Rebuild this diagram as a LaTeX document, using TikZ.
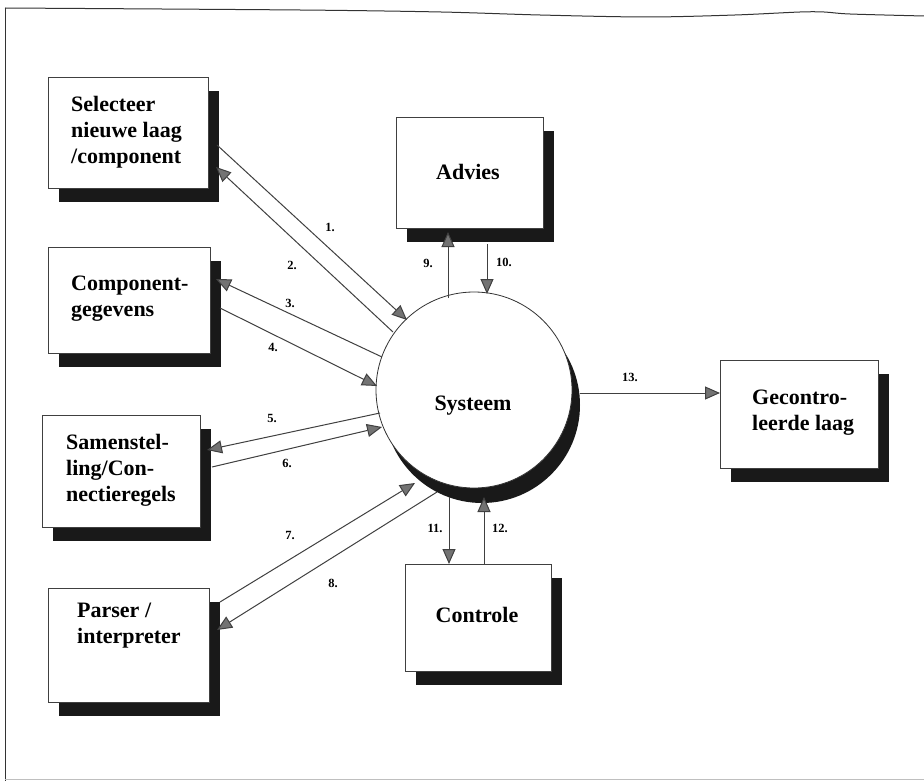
\documentclass[tikz,border=0pt]{standalone}
\usepackage{fontspec}
\setmainfont{Liberation Serif}
\usetikzlibrary{arrows.meta,shadows}
\begin{document}
\begin{tikzpicture}[x=1pt,y=-1pt,
  box/.style={draw=black!75, line width=0.8pt, fill=white, inner sep=0pt,
    drop shadow={shadow xshift=11pt, shadow yshift=-14pt, opacity=1, fill=black!90}},
  sysshape/.style={circle, draw=black!80, line width=0.8pt, fill=white, inner sep=0pt,
    drop shadow={shadow xshift=8pt, shadow yshift=-15pt, opacity=1, fill=black!90}},
  lbl/.style={font=\fontsize{22}{26}\selectfont\bfseries, align=left, inner sep=0pt},
  num/.style={font=\fontsize{12.5}{14}\selectfont\bfseries, inner sep=0pt},
  flow/.style={draw=black!75, line width=1pt, -{Triangle[length=15pt,width=13pt,fill=black!55]}},
  frame/.style={draw=black!80, line width=1pt}]
\fill[white] (0,0) rectangle (924,781);
\useasboundingbox (0,0) rectangle (924,781);

% frame
\draw[frame] plot[smooth, tension=0.5] coordinates {(5,8) (300,10) (441,12) (540,15) (647,17) (735,15) (800,12) (824,12) (850,14) (924,16)};
\draw[frame] (5,8) -- (5,781);
\draw[black!25, line width=0.8pt] (5,779) -- (924,779);

% boxes
\node[box, minimum width=160pt, minimum height=111pt] (sel)  at (128,132.5) {};
\node[box, minimum width=162pt, minimum height=106pt] (comp) at (129,300) {};
\node[box, minimum width=158pt, minimum height=112pt] (sam)  at (121,471) {};
\node[box, minimum width=161pt, minimum height=114pt] (par)  at (128.5,645) {};
\node[box, minimum width=147pt, minimum height=111pt] (adv)  at (469.5,172.5) {};
\node[box, minimum width=146pt, minimum height=107pt] (ctl)  at (478,617.5) {};
\node[box, minimum width=158pt, minimum height=108pt] (gec)  at (799,414) {};
\node[sysshape, minimum size=196pt] (sys) at (474,390) {};

% texts
\node[lbl, anchor=west] (selT)  at (71,132) {Selecteer\\nieuwe laag\\/component};
\node[lbl, anchor=west] (compT) at (71,299) {Component-\\gegevens};
\node[lbl, anchor=west] (samT)  at (66,470) {Samenstel-\\ling/Con-\\nectieregels};
\node[lbl, anchor=west] (parT)  at (77,626) {Parser /\\interpreter};
\node[lbl] (advT) at (468,172) {Advies};
\node[lbl] (ctlT) at (477,615) {Controle};
\node[lbl, anchor=west] (gecT) at (752,413) {Gecontro-\\leerde laag};
\node[lbl] (sysT) at (473,406) {Systeem};

% connector end points
\coordinate (c1a) at (217,145);  \coordinate (c1b) at (407,320);
\coordinate (c2a) at (393,332);  \coordinate (c2b) at (216,167);
\coordinate (c3a) at (382,357);  \coordinate (c3b) at (216,279);
\coordinate (c4a) at (220,308);  \coordinate (c4b) at (377,386);
\coordinate (c5a) at (380,413);  \coordinate (c5b) at (207,450);
\coordinate (c6a) at (212,467);  \coordinate (c6b) at (382,427);
\coordinate (c7a) at (220,602);  \coordinate (c7b) at (415,483);
\coordinate (c8a) at (437,492);  \coordinate (c8b) at (217,630);
\coordinate (c9a) at (448,298);  \coordinate (c9b) at (448,232);
\coordinate (c10a) at (487,244); \coordinate (c10b) at (487,294);
\coordinate (c11a) at (449,497); \coordinate (c11b) at (449,564);
\coordinate (c12a) at (484,564); \coordinate (c12b) at (484,497);
\coordinate (c13a) at (580,393); \coordinate (c13b) at (720,393);

\foreach \i in {1,...,13} { \draw[flow] (c\i a) -- (c\i b); }

% numbers
\node[num] (n1)  at (330,227) {1.};
\node[num] (n2)  at (292,265) {2.};
\node[num] (n3)  at (290,303) {3.};
\node[num] (n4)  at (273,347) {4.};
\node[num] (n5)  at (272,418) {5.};
\node[num] (n6)  at (287,463) {6.};
\node[num] (n7)  at (290,535) {7.};
\node[num] (n8)  at (333,583) {8.};
\node[num] (n9)  at (428,263) {9.};
\node[num] (n10) at (504,262) {10.};
\node[num] (n11) at (435,528) {11.};
\node[num] (n12) at (500,528) {12.};
\node[num] (n13) at (630,377) {13.};
\end{tikzpicture}
\end{document}
